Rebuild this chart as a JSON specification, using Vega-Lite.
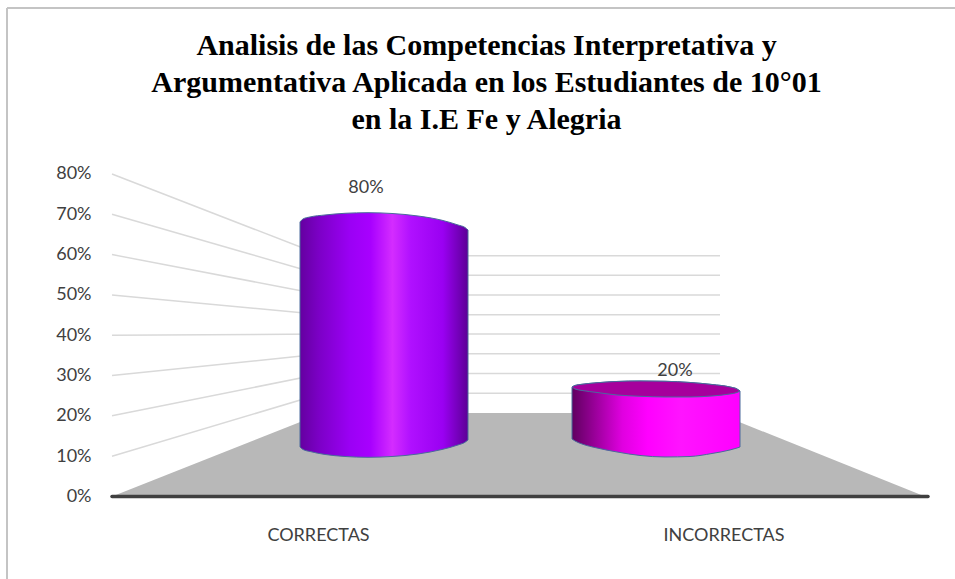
{
"$schema":"https://vega.github.io/schema/vega-lite/v6.json",
"width":955,"height":579,"padding":0,"autosize":{"type":"none"},
"background":"#ffffff",
"title":{"text":["Analisis de las Competencias Interpretativa y","Argumentativa Aplicada en los Estudiantes de 10°01","en la I.E Fe y Alegria"],"font":"Liberation Serif","fontSize":30,"fontWeight":"bold","color":"#000000","lineHeight":37,"anchor":"middle","dx":9,"offset":-135,"frame":"group"},
"config":{"view":{"stroke":null}},
"datasets":{
"frame":[{"x":7,"x2":7,"y":121.2,"y2":-20.47},{"x":7,"x2":955,"y":121.2,"y2":121.2}],
"walls":[
{"nivel":0.1,"x":112,"x2":323,"y":10,"y2":25.6},
{"nivel":0.2,"x":112,"x2":323,"y":20,"y2":30.5},
{"nivel":0.3,"x":112,"x2":323,"y":30,"y2":35.4},
{"nivel":0.4,"x":112,"x2":323,"y":40,"y2":40.3},
{"nivel":0.5,"x":112,"x2":323,"y":50,"y2":45.1},
{"nivel":0.6,"x":112,"x2":323,"y":60,"y2":50.0},
{"nivel":0.7,"x":112,"x2":323,"y":70,"y2":54.9},
{"nivel":0.8,"x":112,"x2":323,"y":80,"y2":59.7},
{"nivel":0.1,"x":323,"x2":720,"y":25.6,"y2":25.6},
{"nivel":0.2,"x":323,"x2":720,"y":30.5,"y2":30.5},
{"nivel":0.3,"x":323,"x2":720,"y":35.4,"y2":35.4},
{"nivel":0.4,"x":323,"x2":720,"y":40.3,"y2":40.3},
{"nivel":0.5,"x":323,"x2":720,"y":45.1,"y2":45.1},
{"nivel":0.6,"x":323,"x2":720,"y":50.0,"y2":50.0},
{"nivel":0.7,"x":323,"x2":720,"y":54.9,"y2":54.9},
{"nivel":0.8,"x":323,"x2":720,"y":59.7,"y2":59.7}
],
"floor":[{"x":112,"y":0,"y2":0},{"x":323,"y":20.7,"y2":0},{"x":717,"y":20.7,"y2":0},{"x":925,"y":0,"y2":0}],
"base":[{"x":112,"x2":928,"y":0}],
"correctas":[
{"x":300,"y":68.10,"y2":12.28},{"x":303,"y":68.84,"y2":11.66},{"x":310,"y":69.34,"y2":11.16},{"x":325,"y":69.83,"y2":10.42},{"x":345,"y":70.25,"y2":9.92},{"x":368,"y":70.40,"y2":9.72},{"x":392,"y":70.20,"y2":9.92},{"x":418,"y":69.58,"y2":10.54},{"x":442,"y":68.52,"y2":11.66},{"x":458,"y":67.35,"y2":12.78},{"x":465,"y":66.73,"y2":13.45},{"x":468,"y":66.11,"y2":14.02}],
"incorrectas":[
{"x":572,"y":27.16,"y2":14.26},{"x":575,"y":27.54,"y2":13.77},{"x":582,"y":27.83,"y2":13.02},{"x":597,"y":28.21,"y2":12.03},{"x":617,"y":28.53,"y2":11.04},{"x":640,"y":28.65,"y2":10.17},{"x":665,"y":28.58,"y2":9.80},{"x":690,"y":28.28,"y2":9.92},{"x":712,"y":27.78,"y2":10.67},{"x":730,"y":27.16,"y2":11.54},{"x":737,"y":26.67,"y2":12.03},{"x":740,"y":26.17,"y2":12.28}],
"tapa":[
{"x":572,"y":27.16,"y2":27.16},{"x":575,"y":27.54,"y2":26.67},{"x":582,"y":27.83,"y2":26.30},{"x":597,"y":28.21,"y2":25.80},{"x":617,"y":28.53,"y2":25.18},{"x":640,"y":28.65,"y2":24.86},{"x":665,"y":28.58,"y2":24.68},{"x":690,"y":28.28,"y2":24.68},{"x":712,"y":27.78,"y2":24.93},{"x":730,"y":27.16,"y2":25.43},{"x":737,"y":26.67,"y2":25.80},{"x":740,"y":26.17,"y2":26.17}],
"etiquetas":[{"categoria":"CORRECTAS","valor":"80%","x":366,"y":76.5},{"categoria":"INCORRECTAS","valor":"20%","x":675,"y":31.1}]
},
"layer":[
{"data":{"name":"frame"},"mark":{"type":"rule","color":"#c4c4c4","strokeWidth":2},
 "encoding":{
  "x":{"field":"x","type":"quantitative","scale":{"domain":[0,955],"nice":false,"zero":false},"axis":{"values":[318,723.5],"labelExpr":"datum.value < 500 ? 'CORRECTAS' : 'INCORRECTAS'","title":null,"domain":false,"ticks":false,"grid":false,"labelFont":"Lato","labelFontSize":18,"labelColor":"#404040","labelBaseline":"middle","labelPadding":0,"offset":-44,"labelOverlap":false,"labelFlush":false}},
  "x2":{"field":"x2"},
  "y":{"field":"y","type":"quantitative","scale":{"domain":[-20.47,123.16],"nice":false,"zero":false},"axis":{"values":[0,10,20,30,40,50,60,70,80],"labelExpr":"datum.value + '%'","title":null,"domain":false,"ticks":false,"grid":false,"labelFont":"Lato","labelFontSize":18,"labelColor":"#404040","labelPadding":0,"offset":-91,"labelOverlap":false,"labelFlush":false}},
  "y2":{"field":"y2"}}},
{"data":{"name":"walls"},"mark":{"type":"rule","color":"#d9d9d9","strokeWidth":1.5},
 "encoding":{"x":{"field":"x","type":"quantitative"},"x2":{"field":"x2"},"y":{"field":"y","type":"quantitative"},"y2":{"field":"y2"}}},
{"data":{"name":"floor"},"mark":{"type":"area","color":"#b8b8b8"},
 "encoding":{"x":{"field":"x","type":"quantitative"},"y":{"field":"y","type":"quantitative","stack":null},"y2":{"field":"y2"}}},
{"data":{"name":"base"},"mark":{"type":"rule","color":"#404040","strokeWidth":3.5,"strokeCap":"round"},
 "encoding":{"x":{"field":"x","type":"quantitative"},"x2":{"field":"x2"},"y":{"field":"y","type":"quantitative"}}},
{"data":{"name":"correctas"},"mark":{"type":"area","interpolate":"monotone","stroke":"#4a6a9c","strokeWidth":1,"fill":{"gradient":"linear","x1":0,"y1":0,"x2":1,"y2":0,"stops":[{"offset":0,"color":"#6400a0"},{"offset":0.12,"color":"#7d00c8"},{"offset":0.3,"color":"#9b00f5"},{"offset":0.42,"color":"#a800ff"},{"offset":0.55,"color":"#d42cff"},{"offset":0.66,"color":"#b010ff"},{"offset":0.85,"color":"#9a00f2"},{"offset":1,"color":"#5c0096"}]}},
 "encoding":{"x":{"field":"x","type":"quantitative"},"y":{"field":"y","type":"quantitative","stack":null},"y2":{"field":"y2"}}},
{"data":{"name":"incorrectas"},"mark":{"type":"area","interpolate":"monotone","stroke":"#4a6a9c","strokeWidth":1,"fill":{"gradient":"linear","x1":0,"y1":0,"x2":1,"y2":0,"stops":[{"offset":0,"color":"#600060"},{"offset":0.1,"color":"#8a008a"},{"offset":0.3,"color":"#e000e0"},{"offset":0.45,"color":"#ff00ff"},{"offset":0.65,"color":"#ff14ff"},{"offset":1,"color":"#ff00ff"}]}},
 "encoding":{"x":{"field":"x","type":"quantitative"},"y":{"field":"y","type":"quantitative","stack":null},"y2":{"field":"y2"}}},
{"data":{"name":"tapa"},"mark":{"type":"area","interpolate":"monotone","stroke":"#4a6a9c","strokeWidth":1,"fill":"#a6009c"},
 "encoding":{"x":{"field":"x","type":"quantitative"},"y":{"field":"y","type":"quantitative","stack":null},"y2":{"field":"y2"}}},
{"data":{"name":"etiquetas"},"mark":{"type":"text","font":"Lato","fontSize":18,"color":"#404040","align":"center","baseline":"middle"},
 "encoding":{"x":{"field":"x","type":"quantitative"},"y":{"field":"y","type":"quantitative"},"text":{"field":"valor","type":"nominal"}}}
]
}
